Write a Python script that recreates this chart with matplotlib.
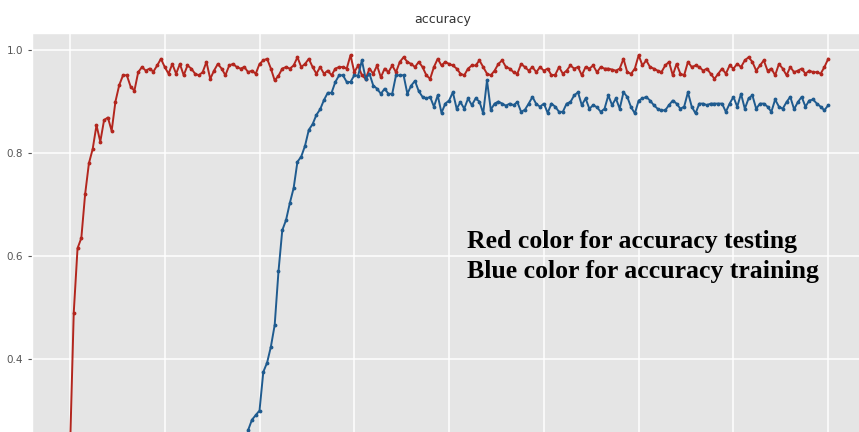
import numpy as np
import matplotlib
matplotlib.use("Agg")
import matplotlib.pyplot as plt

# accuracy per epoch
test_acc = [
    0.22, 0.49, 0.615, 0.635, 0.72, 0.78, 0.808, 0.854, 0.822, 0.864,
    0.869, 0.843, 0.90, 0.932, 0.951, 0.951, 0.929, 0.921, 0.957, 0.967,
    0.96, 0.964, 0.958, 0.97, 0.983, 0.967, 0.954, 0.973, 0.954, 0.973,
    0.951, 0.97, 0.964, 0.954, 0.951, 0.957, 0.977, 0.944, 0.96, 0.973,
    0.964, 0.951, 0.97, 0.973, 0.967, 0.964, 0.967, 0.957, 0.96, 0.954,
    0.973, 0.98, 0.983, 0.964, 0.941, 0.95, 0.964, 0.967, 0.964, 0.97,
    0.986, 0.967, 0.973, 0.983, 0.967, 0.954, 0.967, 0.954, 0.96, 0.951,
    0.964, 0.967, 0.967, 0.964, 0.99, 0.957, 0.97, 0.951, 0.944, 0.964,
    0.954, 0.97, 0.947, 0.964, 0.957, 0.97, 0.957, 0.977, 0.986, 0.977,
    0.973, 0.967, 0.977, 0.967, 0.951, 0.944, 0.967, 0.983, 0.97, 0.977,
    0.973, 0.97, 0.964, 0.954, 0.951, 0.964, 0.97, 0.97, 0.98, 0.967,
    0.954, 0.951, 0.96, 0.973, 0.98, 0.967, 0.964, 0.957, 0.954, 0.973,
    0.967, 0.96, 0.967, 0.957, 0.967, 0.96, 0.964, 0.951, 0.952, 0.967,
    0.954, 0.96, 0.97, 0.964, 0.967, 0.951, 0.967, 0.964, 0.97, 0.957,
    0.967, 0.964, 0.964, 0.962, 0.96, 0.964, 0.983, 0.957, 0.954, 0.964,
    0.99, 0.97, 0.98, 0.967, 0.964, 0.96, 0.957, 0.97, 0.977, 0.951,
    0.973, 0.954, 0.951, 0.977, 0.967, 0.97, 0.967, 0.96, 0.964, 0.954,
    0.944, 0.954, 0.964, 0.954, 0.97, 0.964, 0.973, 0.967, 0.98, 0.986,
    0.977, 0.96, 0.97, 0.98, 0.96, 0.964, 0.951, 0.973, 0.964, 0.951,
    0.967, 0.957, 0.96, 0.964, 0.954, 0.96, 0.957, 0.957, 0.954, 0.967,
    0.983,
]

train_start = 46
train_acc = [
    0.22, 0.262, 0.282, 0.291, 0.30, 0.375, 0.393, 0.424, 0.466, 0.57,
    0.65, 0.67, 0.703, 0.732, 0.783, 0.793, 0.814, 0.845, 0.856, 0.874,
    0.885, 0.903, 0.917, 0.917, 0.938, 0.951, 0.951, 0.938, 0.938, 0.951,
    0.95, 0.98, 0.944, 0.954, 0.931, 0.925, 0.915, 0.925, 0.915, 0.915,
    0.951, 0.951, 0.951, 0.915, 0.931, 0.94, 0.92, 0.909, 0.906, 0.909,
    0.89, 0.912, 0.878, 0.896, 0.902, 0.918, 0.886, 0.899, 0.886, 0.906,
    0.893, 0.906, 0.90, 0.877, 0.941, 0.884, 0.896, 0.90, 0.896, 0.892,
    0.896, 0.893, 0.899, 0.88, 0.884, 0.896, 0.909, 0.895, 0.89, 0.896,
    0.878, 0.896, 0.89, 0.88, 0.88, 0.896, 0.899, 0.912, 0.918, 0.893,
    0.906, 0.886, 0.893, 0.889, 0.88, 0.886, 0.912, 0.893, 0.906, 0.886,
    0.918, 0.909, 0.889, 0.877, 0.902, 0.906, 0.909, 0.902, 0.893, 0.886,
    0.883, 0.883, 0.893, 0.902, 0.896, 0.886, 0.89, 0.918, 0.89, 0.877,
    0.896, 0.896, 0.893, 0.896, 0.896, 0.896, 0.896, 0.88, 0.896, 0.909,
    0.89, 0.915, 0.886, 0.906, 0.912, 0.886, 0.896, 0.896, 0.89, 0.88,
    0.904, 0.89, 0.886, 0.899, 0.909, 0.885, 0.899, 0.909, 0.89, 0.902,
    0.904, 0.896, 0.89, 0.883, 0.893,
]

note_lines = ["Red color for accuracy testing", "Blue color for accuracy training"]

test_epochs = np.arange(len(test_acc))
train_epochs = np.arange(train_start, train_start + len(train_acc))

plt.style.use("ggplot")
fig = plt.figure(figsize=(8.59, 4.32), dpi=100)
# the picture is a crop: the x axis sits below the bottom edge
ax = fig.add_axes([0.0373, -0.0695, 0.971, 0.993])

ax.plot(test_epochs, test_acc, color="#b3261e", marker=".", markersize=3.5, linewidth=1.4)
ax.plot(train_epochs, train_acc, color="#1f5b8f", marker=".", markersize=3.5, linewidth=1.4)

ax.set_xlim(-10, 210)
ax.set_ylim(0.2, 1.033)
ax.set_xticks(np.arange(0, 201, 25))
ax.set_yticks([0.4, 0.6, 0.8, 1.0])
ax.tick_params(axis="x", labelbottom=False, length=0)
ax.tick_params(axis="y", labelsize=7.5, colors="#555555", length=3)
ax.grid(True, color="white", linewidth=1.1)

fig.text(0.515, 0.955, "accuracy", ha="center", va="center", fontsize=9, color="#333333")

for i, line in enumerate(note_lines):
    fig.text(0.5437, 0.426 - i * 0.0695, line, ha="left", va="baseline",
             family="Liberation Serif", fontweight="bold", fontsize=18.5, color="black")

fig.savefig("out.png", dpi=100)
